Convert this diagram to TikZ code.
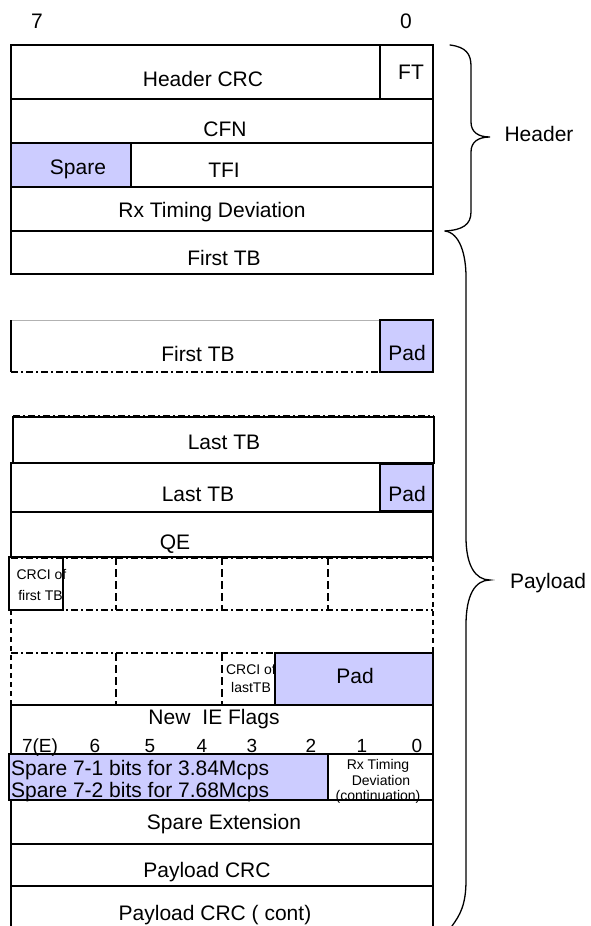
\documentclass[tikz,border=0pt]{standalone}
\usepackage{fontspec}
\setmainfont{Liberation Sans}
\definecolor{lav}{HTML}{CCCCFF}
\tikzset{
  cellsty/.style={draw=black, line width=1.3pt, rectangle, inner sep=0pt},
  txtsty/.style={anchor=base, inner sep=0pt},
  dashdotln/.style={line width=1.3pt, dash pattern=on 7pt off 3pt on 2pt off 3pt},
  longdash/.style={line width=1.3pt, dash pattern=on 8pt off 4pt},
  shortdash/.style={line width=1.3pt, dash pattern=on 5pt off 4pt},
  bracesty/.style={line width=1.3pt, line cap=round},
}
\newcommand\cellbox[6]{%
  \node[cellsty,#6,minimum width={(#4-#2)*1pt},minimum height={(#5-#3)*1pt}] (#1) at ({(#2+#4)/2},{(#3+#5)/2}) {};}
\newcommand\txt[5]{%
  \node[txtsty,font=\fontsize{#4}{#4}\selectfont] (#1) at (#2,#3) {#5};}
\newcommand\txtl[5]{%
  \node[txtsty,anchor=base west,font=\fontsize{#4}{#4}\selectfont] (#1) at (#2,#3) {#5};}
\begin{document}
\begin{tikzpicture}[x=1pt,y=-1pt]
\useasboundingbox (0,0) rectangle (590,926);
% header block
\cellbox{hcrc}{11}{45}{380}{99}{}
\cellbox{ft}{380}{45}{433}{99}{}
\cellbox{cfn}{11}{99}{433}{143}{}
\cellbox{tfi}{11}{143}{433}{187}{}
\cellbox{spare}{11}{143}{131}{187}{fill=lav}
\cellbox{rxtd}{11}{187}{433}{231}{}
\cellbox{ftb1}{11}{231}{433}{274}{}
% second First TB (partial borders)
\draw[gray!60, line width=0.7pt] (11,320) -- (380,320);
\draw[line width=1.3pt] (11,320) -- (11,372);
\draw[dashdotln] (11,372) -- (433,372);
\cellbox{pad1}{380}{320}{433}{372}{fill=lav}
% last TB block
\draw[dashdotln] (13,416) -- (434,416);
\cellbox{ltb1}{13}{417}{434}{463}{}
\cellbox{ltb2}{11}{463}{433}{512}{}
\cellbox{pad2}{380}{464}{433}{511}{fill=lav}
\cellbox{qe}{11}{512}{433}{557}{}
% dashed grid
\draw[dashdotln] (11,558) -- (433,558);
\draw[dashdotln] (11,610) -- (433,610);
\draw[dashdotln] (11,653) -- (433,653);
\draw[shortdash] (433,557) -- (433,705);
\draw[shortdash] (11,610) -- (11,705);
\draw[longdash] (116,557) -- (116,610);
\draw[longdash] (222,557) -- (222,610);
\draw[longdash] (328,557) -- (328,610);
\draw[longdash] (116,653) -- (116,705);
\draw[longdash] (222,653) -- (222,705);
\cellbox{crci1}{9}{557}{63}{610}{}
\cellbox{pad3}{275}{653}{433}{705}{fill=lav}
% lower block
\cellbox{ief}{11}{705}{433}{754}{}
\cellbox{spb}{9}{754}{328}{800}{fill=lav}
\cellbox{rxc}{328}{754}{433}{800}{}
\cellbox{sext}{11}{800}{433}{844}{}
\cellbox{pcrc}{11}{844}{433}{886}{}
\cellbox{pcrc2}{11}{886}{433}{945}{}
% texts
\txt{b7}{37}{28.5}{21}{7}
\txt{b0}{406}{28.5}{21}{0}
\txt{thcrc}{203}{86.5}{21}{Header CRC}
\txt{tft}{411}{79.5}{21}{FT}
\txt{tcfn}{225}{136.5}{21}{CFN}
\txt{tspare}{78}{174.5}{21}{Spare}
\txt{ttfi}{224}{177.5}{21}{TFI}
\txt{trxtd}{212}{217.5}{21}{Rx Timing Deviation}
\txt{tftb1}{224}{265}{21}{First TB}
\txt{tftb2}{198}{361.5}{21}{First TB}
\txt{tpad1}{407}{360.5}{21}{Pad}
\txt{tltb1}{224}{449.5}{21}{Last TB}
\txt{tltb2}{198}{501.5}{21}{Last TB}
\txt{tpad2}{407}{501.5}{21}{Pad}
\txt{tqe}{175}{549.5}{21}{QE}
\txt{tcrci1a}{41.5}{579}{14}{CRCI of}
\txt{tcrci1b}{40.5}{600}{14}{first TB}
\txt{tcrci2a}{251}{674}{14}{CRCI of}
\txt{tcrci2b}{251}{692}{14}{lastTB}
\txt{tpad3}{355}{683.5}{21}{Pad}
\txt{tief}{214}{724.5}{21}{New\hspace{12pt}IE Flags}
\txt{n7}{40}{752}{19}{7(E)}
\txt{n6}{95}{752}{19}{6}
\txt{n5}{150}{752}{19}{5}
\txt{n4}{202}{752}{19}{4}
\txt{n3}{252}{752}{19}{3}
\txt{n2}{311}{752}{19}{2}
\txt{n1}{362}{752}{19}{1}
\txt{n0}{417}{752}{19}{0}
\txtl{tspb1}{11}{775.5}{21}{Spare 7-1 bits for 3.84Mcps}
\txtl{tspb2}{11}{797.5}{21}{Spare 7-2 bits for 7.68Mcps}
\txt{trxc1}{378}{769.5}{14}{Rx Timing}
\txt{trxc2}{381}{785}{14}{Deviation}
\txt{trxc3}{378}{800.5}{14}{(continuation)}
\txt{tsext}{224}{829.5}{21}{Spare Extension}
\txt{tpcrc}{207}{877.5}{21}{Payload CRC}
\txt{tpcrc2}{215}{920.5}{21}{Payload CRC ( cont)}
% braces
\coordinate (hb1) at (450,45);
\coordinate (hbt) at (490,137);
\coordinate (hb2) at (445,231);
\draw[bracesty] (hb1) .. controls (466,47) and (471,54) .. (471,66) -- (471,122)
  .. controls (471,132) and (478,137) .. (hbt)
  .. controls (478,137) and (471,142) .. (471,152) -- (471,212)
  .. controls (471,225) and (462,230) .. (hb2);
\coordinate (pb1) at (445,231);
\coordinate (pbt) at (490,580);
\coordinate (pb2) at (452,926);
\draw[bracesty] (pb1) .. controls (460,233) and (466,255) .. (466,277) -- (466,537)
  .. controls (466,565) and (475,580) .. (pbt)
  .. controls (475,580) and (466,595) .. (466,625) -- (466,880)
  .. controls (466,905) and (460,915) .. (pb2);
\txt{thead}{539}{141.5}{21}{Header}
\txt{tpay}{548}{588.5}{21}{Payload}
\end{tikzpicture}
\end{document}
